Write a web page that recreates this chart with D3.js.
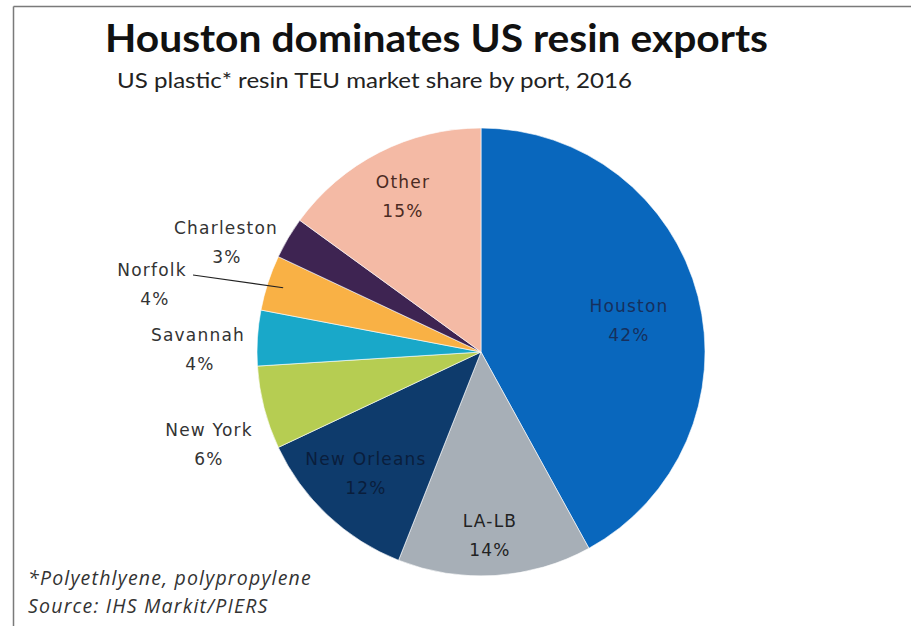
<!DOCTYPE html>
<html>
<head>
<meta charset="utf-8">
<script src="https://cdn.jsdelivr.net/npm/d3@7"></script>
<style>
  html, body { margin: 0; padding: 0; background: #ffffff; }
  svg { display: block; }
</style>
</head>
<body>
<svg id="chart" width="911" height="626"></svg>
<script>
// Port names, market shares (%) and slice colours, clockwise from 12 o'clock
const ports  = ["Houston", "LA-LB", "New Orleans", "New York", "Savannah", "Norfolk", "Charleston", "Other"];
const shares = [42, 14, 12, 6, 4, 4, 3, 15];
const colors = ["#0967bd", "#a7afb7", "#0e3b6c", "#b6cd52", "#19a8c9", "#f9b145", "#3e2452", "#f4baa5"];
const labelColors = ["#16305e", "#222222", "#0a1e3c", "#333333", "#333333", "#333333", "#333333", "#4a2a22"];

// Label anchor points: name centre, percentage centre x, name line y
const labelPos = {
  "Houston":     [629, 629, 306],
  "LA-LB":       [490, 490, 521],
  "New Orleans": [366, 366, 459],
  "New York":    [209, 209, 430],
  "Savannah":    [198, 200, 335],
  "Norfolk":     [152, 155, 270],
  "Charleston":  [226, 227, 228],
  "Other":       [403, 403, 182]
};

const svg = d3.select("#chart");

// Frame lines along the top and left
svg.append("line").attr("x1", 13.5).attr("y1", 6.5).attr("x2", 911).attr("y2", 6.5)
  .attr("stroke", "#7a7a7a").attr("stroke-width", 1.5);
svg.append("line").attr("x1", 13.5).attr("y1", 6.5).attr("x2", 13.5).attr("y2", 626)
  .attr("stroke", "#7a7a7a").attr("stroke-width", 1.5);

// Titles
svg.append("text").attr("x", 105).attr("y", 52)
  .attr("font-family", "Lato, 'Open Sans', sans-serif").attr("font-weight", "bold")
  .attr("font-size", 39).attr("fill", "#111")
  .attr("textLength", 663).attr("lengthAdjust", "spacingAndGlyphs")
  .text("Houston dominates US resin exports");
svg.append("text").attr("x", 117).attr("y", 88)
  .attr("font-family", "Lato, 'Open Sans', sans-serif")
  .attr("font-size", 21).attr("fill", "#222")
  .attr("textLength", 515).attr("lengthAdjust", "spacingAndGlyphs")
  .text("US plastic* resin TEU  market share by port, 2016");

// Pie
const cx = 481, cy = 352, r = 224;
const data = ports.map((p, i) => ({ port: p, share: shares[i], color: colors[i], labelColor: labelColors[i] }));
const pie = d3.pie().value(d => d.share).sort(null);
const arc = d3.arc().innerRadius(0).outerRadius(r);
const g = svg.append("g").attr("transform", `translate(${cx},${cy})`);
g.selectAll("path").data(pie(data)).join("path")
  .attr("d", arc)
  .attr("fill", d => d.data.color)
  .attr("stroke", "#ffffff").attr("stroke-opacity", 0.6).attr("stroke-width", 1);

// Leader line for Norfolk
const norfolk = pie(data)[5];
const midA = (norfolk.startAngle + norfolk.endAngle) / 2;
svg.append("path")
  .attr("d", `M193,275 L${cx + (r - 16) * Math.sin(midA)},${cy - (r - 16) * Math.cos(midA)}`)
  .attr("fill", "none").attr("stroke", "#222").attr("stroke-width", 1.2);

// Slice labels: name and percentage
const lab = svg.append("g")
  .attr("font-family", "'DejaVu Sans', Verdana, sans-serif")
  .attr("font-size", 17).attr("letter-spacing", 1.2).attr("text-anchor", "middle");
data.forEach(d => {
  const [x, px, y] = labelPos[d.port];
  const t = lab.append("text").attr("fill", d.labelColor);
  t.append("tspan").attr("x", x).attr("y", y + 6).text(d.port);
  t.append("tspan").attr("x", px).attr("y", y + 35).text(d3.format("d")(d.share) + "%");
});

// Footnotes
const foot = svg.append("g")
  .attr("font-family", "'Open Sans', 'DejaVu Sans', sans-serif")
  .attr("font-style", "italic").attr("font-size", 19.5).attr("letter-spacing", 1.2).attr("fill", "#333");
foot.append("text").attr("x", 28).attr("y", 585).text("*Polyethlyene, polypropylene");
foot.append("text").attr("x", 28).attr("y", 613).text("Source: IHS Markit/PIERS");
</script>
</body>
</html>
